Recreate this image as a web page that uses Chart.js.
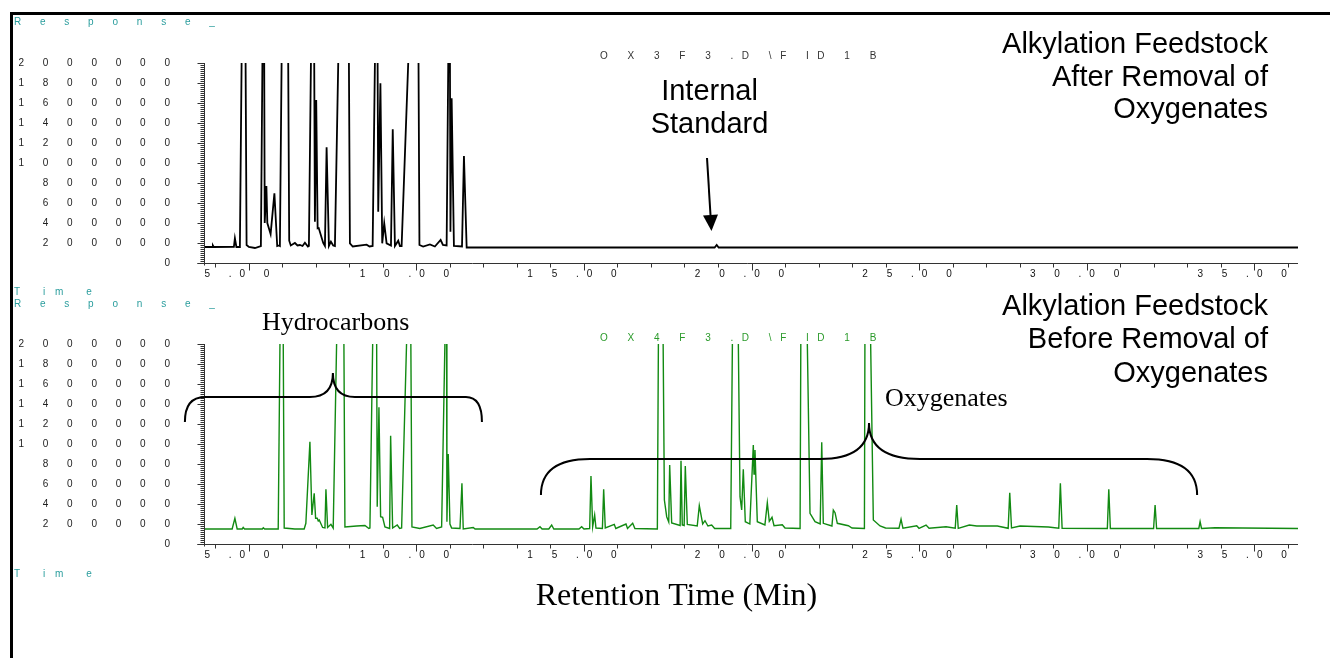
<!DOCTYPE html>
<html><head><meta charset="utf-8">
<script src="https://cdn.jsdelivr.net/npm/chart.js@4.4.1/dist/chart.umd.min.js"></script>
<style>
html,body{margin:0;padding:0;background:#fff;width:1330px;height:658px;overflow:hidden;}
#frame{position:absolute;left:10px;top:12px;right:0;bottom:0;border-top:3px solid #000;border-left:3px solid #000;}
canvas{position:absolute;left:0;}
#c1{top:0;width:1330px;height:300px;}
#c2{top:284px;width:1330px;height:374px;}
</style></head><body>
<div id="frame"></div>
<canvas id="c1" width="1330" height="300"></canvas>
<canvas id="c2" width="1330" height="374"></canvas>
<script>
// ---------- data (retention time in min, detector response) ----------
const topTimes = [
  3.66, 3.90, 3.925, 3.95, 4.552, 4.582, 4.627, 4.731, 4.857, 4.931,
  5.00, 5.18, 5.358, 5.442, 5.472, 5.522, 5.55, 5.648, 5.761, 5.845,
  5.896, 5.925, 6.099, 6.203, 6.25, 6.373, 6.45, 6.522, 6.60, 6.672,
  6.761, 6.791, 6.922, 6.970, 7.009, 7.051, 7.084, 7.218, 7.269, 7.319,
  7.388, 7.448, 7.516, 7.567, 7.910, 8.015, 8.10, 8.513, 8.60, 8.693,
  8.821, 8.860, 8.925, 8.979, 9.039, 9.110, 9.24, 9.293, 9.358, 9.457,
  9.507, 9.558, 10.024, 10.090, 10.20, 10.403, 10.55, 10.722, 10.791, 10.901,
  10.988, 11.015, 11.051, 11.119, 11.36, 11.418, 11.499, 18.90, 18.961, 19.02,
  36.31
];
const topResponse = [
  160000, 160000, 175000, 160000, 162000, 247000, 160000, 160000, 4700000, 180000,
  160000, 150000, 170000, 3600000, 400000, 770000, 400000, 290000, 697000, 170000,
  175000, 170000, 6440000, 223000, 175000, 200000, 175000, 180000, 170000, 203000,
  165000, 170000, 4160000, 413000, 1630000, 347000, 350000, 200000, 170000, 1157000,
  170000, 213000, 175000, 170000, 6500000, 197000, 165000, 183000, 165000, 170000,
  3630000, 513000, 1797000, 197000, 397000, 197000, 175000, 1337000, 170000, 223000,
  170000, 170000, 4500000, 180000, 165000, 185000, 165000, 230000, 180000, 175000,
  3450000, 313000, 1647000, 170000, 165000, 1070000, 155000, 155000, 180000, 155000,
  155000
];
const bottomTimes = [
  3.66, 4.50, 4.582, 4.65, 4.80, 4.83, 4.87, 5.40, 5.43, 5.47,
  5.875, 5.99, 6.054, 6.37, 6.65, 6.70, 6.821, 6.88, 6.949, 6.991,
  7.039, 7.07, 7.099, 7.20, 7.27, 7.299, 7.349, 7.448, 7.516, 7.785,
  7.866, 8.215, 8.463, 8.58, 8.612, 8.79, 8.830, 8.881, 8.931, 8.991,
  9.060, 9.20, 9.230, 9.290, 9.427, 9.50, 9.558, 9.81, 9.866, 10.10,
  10.501, 10.60, 10.752, 10.895, 10.91, 10.949, 11.0, 11.05, 11.30, 11.358,
  11.397, 11.696, 11.75, 13.60, 13.687, 13.75, 13.95, 14.036, 14.10, 14.85,
  14.931, 15.0, 15.17, 15.209, 15.260, 15.319, 15.358, 15.55, 15.588, 15.636,
  15.904, 15.95, 16.254, 16.30, 16.454, 16.52, 17.19, 17.28, 17.40, 17.469,
  17.53, 17.558, 17.618, 17.87, 17.896, 17.934, 17.99, 18.024, 18.084, 18.38,
  18.442, 18.543, 18.612, 18.70, 18.812, 18.90, 19.38, 19.51, 19.657, 19.707,
  19.755, 19.815, 19.95, 20.054, 20.075, 20.104, 20.173, 20.40, 20.472, 20.531,
  20.612, 20.672, 20.919, 21.00, 21.45, 21.51, 21.746, 21.896, 22.05, 22.096,
  22.143, 22.40, 22.442, 22.493, 22.561, 22.890, 23.0, 23.37, 23.41, 23.636,
  23.836, 24.0, 24.40, 24.463, 24.52, 24.931, 25.0, 25.209, 25.30, 25.806,
  26.08, 26.125, 26.17, 26.501, 26.722, 27.337, 27.66, 27.707, 27.76, 28.015,
  28.860, 29.17, 29.218, 29.27, 30.62, 30.663, 30.71, 32.00, 32.045, 32.09,
  33.35, 33.388, 33.43, 33.836, 36.31
];
const bottomResponse = [
  150000, 150000, 257000, 150000, 150000, 165000, 150000, 150000, 162000, 150000,
  150000, 4260000, 160000, 150000, 150000, 207000, 1023000, 290000, 507000, 257000,
  257000, 230000, 240000, 165000, 160000, 547000, 165000, 197000, 160000, 5050000,
  170000, 180000, 185000, 155000, 160000, 4170000, 373000, 1367000, 273000, 267000,
  170000, 155000, 1083000, 160000, 190000, 155000, 160000, 3320000, 170000, 155000,
  190000, 155000, 170000, 2860000, 223000, 900000, 200000, 160000, 155000, 607000,
  150000, 165000, 150000, 150000, 173000, 150000, 150000, 190000, 150000, 150000,
  173000, 150000, 155000, 680000, 173000, 290000, 160000, 155000, 547000, 160000,
  197000, 155000, 200000, 155000, 207000, 155000, 150000, 5500000, 440000, 273000,
  220000, 790000, 210000, 185000, 833000, 190000, 185000, 780000, 195000, 180000,
  383000, 200000, 233000, 180000, 190000, 155000, 155000, 5000000, 473000, 340000,
  747000, 223000, 200000, 990000, 700000, 940000, 223000, 190000, 413000, 227000,
  267000, 183000, 193000, 160000, 155000, 5330000, 307000, 223000, 200000, 1017000,
  207000, 180000, 340000, 313000, 207000, 183000, 160000, 155000, 5220000, 240000,
  180000, 160000, 157000, 247000, 157000, 183000, 157000, 190000, 157000, 173000,
  157000, 390000, 157000, 190000, 180000, 180000, 157000, 513000, 160000, 180000,
  170000, 157000, 607000, 157000, 155000, 547000, 155000, 155000, 390000, 155000,
  155000, 223000, 155000, 163000, 155000
];
const xTickValues = [5, 10, 15, 20, 25, 30, 35];
const xTickLabels = ['5.00', '10.00', '15.00', '20.00', '25.00', '30.00', '35.00'];
const yTickValues = [0, 200000, 400000, 600000, 800000, 1000000, 1200000, 1400000, 1600000, 1800000, 2000000];
const yTickLabels = ['0', '200000', '400000', '600000', '800000', '1000000', '1200000', '1400000', '1600000', '1800000', '2000000'];

// ---------- settings ----------
const X_MIN = 3.66, X_MAX = 36.31, Y_MAX = 2000000, Y_MAJOR = 200000, Y_MINOR = 20000;
const SANS = '"Liberation Sans", Arial, Helvetica, sans-serif';
const SERIF = '"Liberation Serif", "Times New Roman", Times, serif';
const TEAL = '#2a9d9d';

Chart.defaults.font.family = SANS;
Chart.defaults.font.size = 10;
Chart.defaults.color = '#111';

function spaced(s) { return s.split('').join(' ').replace(/\. /g, '.'); }
function toPoints(ts, vs) { return ts.map((t, i) => ({ x: t, y: vs[i] })); }

function drawText(ctx, a) {
  ctx.save();
  ctx.font = a.font; ctx.fillStyle = a.color || '#000';
  ctx.textAlign = a.align || 'left'; ctx.textBaseline = 'alphabetic';
  ctx.letterSpacing = (a.spacing || 0) + 'px';
  ctx.fillText(a.text, a.x, a.y);
  ctx.restore();
}
function drawArrow(ctx, xs, ys, a) {
  const x1 = xs.getPixelForValue(a.from[0]), y1 = ys.getPixelForValue(a.from[1]);
  const x2 = xs.getPixelForValue(a.to[0]), y2 = ys.getPixelForValue(a.to[1]);
  const ang = Math.atan2(y2 - y1, x2 - x1), hl = 16, hw = 7.5;
  const bx = x2 - hl * Math.cos(ang), by = y2 - hl * Math.sin(ang);
  ctx.save(); ctx.strokeStyle = '#000'; ctx.fillStyle = '#000'; ctx.lineWidth = 2;
  ctx.beginPath(); ctx.moveTo(x1, y1); ctx.lineTo(bx, by); ctx.stroke();
  ctx.beginPath(); ctx.moveTo(x2, y2);
  ctx.lineTo(bx + hw * Math.sin(ang), by - hw * Math.cos(ang));
  ctx.lineTo(bx - hw * Math.sin(ang), by + hw * Math.cos(ang));
  ctx.closePath(); ctx.fill(); ctx.restore();
}
function drawBracket(ctx, xs, ys, b) {
  const X = b.x.map(t => xs.getPixelForValue(t));
  const yE = ys.getPixelForValue(b.yEnd), yB = ys.getPixelForValue(b.yBar), yT = ys.getPixelForValue(b.yTip);
  ctx.save(); ctx.strokeStyle = '#000'; ctx.lineWidth = 2; ctx.beginPath();
  ctx.moveTo(X[0], yE);
  ctx.quadraticCurveTo(X[0], yB, X[1], yB);
  ctx.lineTo(X[2], yB);
  ctx.quadraticCurveTo(X[3], yB, X[3], yT);
  ctx.quadraticCurveTo(X[3], yB, X[4], yB);
  ctx.lineTo(X[5], yB);
  ctx.quadraticCurveTo(X[6], yB, X[6], yE);
  ctx.stroke(); ctx.restore();
}

function chemPlugin(extra) {
  return {
    id: 'chemstation',
    beforeDraw(chart) { chart.ctx.letterSpacing = '8px'; },
    afterDraw(chart) {
      const ctx = chart.ctx; ctx.letterSpacing = '0px';
      const xs = chart.scales.x, ys = chart.scales.y, ca = chart.chartArea;
      const L = Math.round(ca.left) + 0.5;
      const Y0 = Math.round(ys.getPixelForValue(0)) + 0.5;
      ctx.save();
      ctx.strokeStyle = '#333'; ctx.lineWidth = 1;
      ctx.beginPath();
      ctx.moveTo(L, ys.getPixelForValue(Y_MAX)); ctx.lineTo(L, Y0 + 2);
      for (let v = 0; v <= Y_MAX; v += Y_MINOR) {
        const p = Math.round(ys.getPixelForValue(v)) + 0.5;
        ctx.moveTo(L - (v % Y_MAJOR === 0 ? 7 : 4), p); ctx.lineTo(L, p);
      }
      ctx.moveTo(L - 7, Y0); ctx.lineTo(ca.right, Y0);
      for (let t = Math.ceil(X_MIN); t <= X_MAX; t++) {
        const p = Math.round(xs.getPixelForValue(t)) + 0.5;
        ctx.moveTo(p, Y0); ctx.lineTo(p, Y0 + (t % 5 === 0 ? 7 : 4));
      }
      ctx.stroke();
      ctx.restore();
      extra(chart, ctx, xs, ys);
    }
  };
}

function makeChart(id, ts, vs, color, width, padTop, axisH, extra) {
  return new Chart(document.getElementById(id), {
    type: 'line',
    data: { datasets: [{ data: toPoints(ts, vs), borderColor: color, borderWidth: width, pointRadius: 0, tension: 0, fill: false }] },
    options: {
      responsive: false, animation: false, devicePixelRatio: 1, events: [],
      layout: { padding: { top: padTop, right: 32, left: 0, bottom: 0 } },
      plugins: { legend: { display: false }, tooltip: { enabled: false } },
      scales: {
        x: {
          type: 'linear', min: X_MIN, max: X_MAX,
          grid: { display: false, drawTicks: false }, border: { display: false },
          afterBuildTicks: s => { s.ticks = xTickValues.map(v => ({ value: v })); },
          afterFit: s => { s.height = axisH; },
          ticks: { autoSkip: false, maxRotation: 0, padding: 5, labelOffset: -8, color: '#111',
                   callback: (v, i) => spaced(xTickLabels[i]) }
        },
        y: {
          type: 'linear', min: 0, max: Y_MAX,
          grid: { display: false, drawTicks: false }, border: { display: false },
          afterBuildTicks: s => { s.ticks = yTickValues.map(v => ({ value: v })); },
          afterFit: s => { s.width = 204; },
          ticks: { padding: 26, color: '#222', callback: (v, i) => spaced(yTickLabels[i]) }
        }
      }
    },
    plugins: [chemPlugin(extra)]
  });
}

// ---------- top chromatogram: after removal ----------
makeChart('c1', topTimes, topResponse, '#000', 1.8, 63, 37, (chart, ctx, xs, ys) => {
  const big = '29px ' + SANS;
  [
    { text: 'R e s p o n s e _', x: 14, y: 25, font: '10px ' + SANS, color: TEAL, spacing: 8 },
    { text: 'T im e', x: 14, y: 295, font: '10px ' + SANS, color: TEAL, spacing: 10 },
    { text: 'O X 3 F 3 .D \\F ID 1 B', x: 600, y: 59, font: '10px ' + SANS, color: '#333', spacing: 8.5 },
    { text: 'Internal', x: 709.5, y: 100, font: big, align: 'center' },
    { text: 'Standard', x: 709.5, y: 133, font: big, align: 'center' },
    { text: 'Alkylation Feedstock', x: 1268, y: 53, font: big, align: 'right' },
    { text: 'After Removal of', x: 1268, y: 86, font: big, align: 'right' },
    { text: 'Oxygenates', x: 1268, y: 118, font: big, align: 'right' }
  ].forEach(a => drawText(ctx, a));
  drawArrow(ctx, xs, ys, { from: [18.672, 1050000], to: [18.806, 320000] });
});

// ---------- bottom chromatogram: before removal ----------
makeChart('c2', bottomTimes, bottomResponse, '#128a12', 1.4, 60, 114, (chart, ctx, xs, ys) => {
  const big = '29px ' + SANS;
  [
    { text: 'R e s p o n s e _', x: 14, y: 23, font: '10px ' + SANS, color: TEAL, spacing: 8 },
    { text: 'T im e', x: 14, y: 293, font: '10px ' + SANS, color: TEAL, spacing: 10 },
    { text: 'O X 4 F 3 .D \\F ID 1 B', x: 600, y: 57, font: '10px ' + SANS, color: '#2a9a2a', spacing: 8.5 },
    { text: 'Hydrocarbons', x: 262, y: 46, font: '26px ' + SERIF },
    { text: 'Oxygenates', x: 885, y: 122, font: '26px ' + SERIF },
    { text: 'Retention Time (Min)', x: 676.5, y: 321, font: '32px ' + SERIF, align: 'center' },
    { text: 'Alkylation Feedstock', x: 1268, y: 31, font: big, align: 'right' },
    { text: 'Before Removal of', x: 1268, y: 64, font: big, align: 'right' },
    { text: 'Oxygenates', x: 1268, y: 98, font: big, align: 'right' }
  ].forEach(a => drawText(ctx, a));
  drawBracket(ctx, xs, ys, { x: [3.09, 3.687, 6.821, 7.507, 8.164, 11.478, 11.955], yEnd: 1220000, yBar: 1470000, yTip: 1710000 });
  drawBracket(ctx, xs, ys, { x: [13.716, 15.179, 22.045, 23.507, 25.030, 31.806, 33.299], yEnd: 490000, yBar: 850000, yTip: 1210000 });
});
</script>
</body></html>
